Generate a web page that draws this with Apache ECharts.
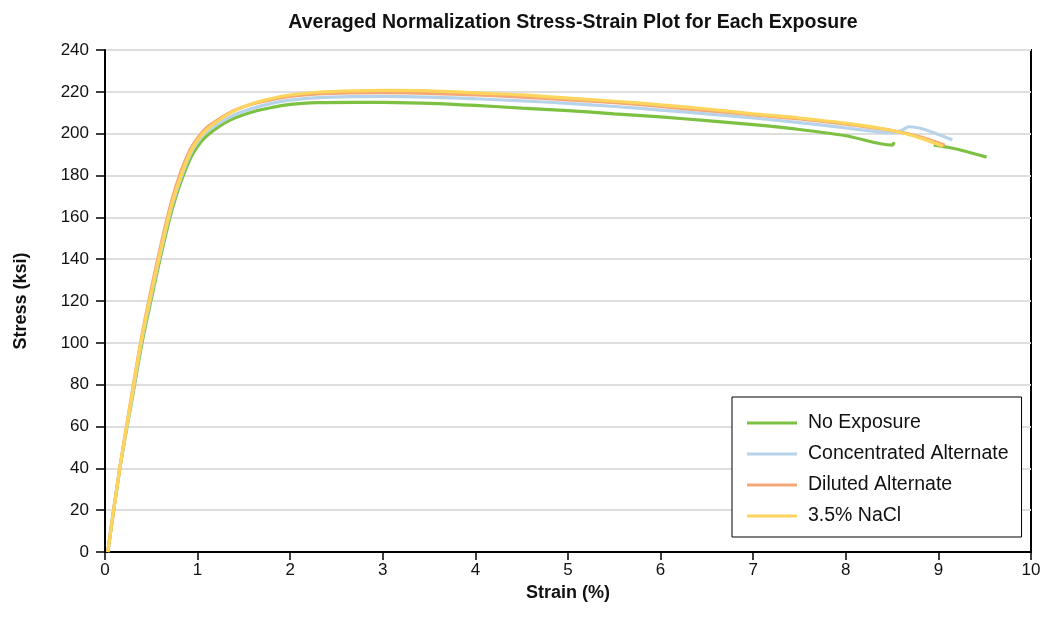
<!DOCTYPE html>
<html>
<head>
<meta charset="utf-8">
<title>Stress-Strain</title>
<script src="https://cdn.jsdelivr.net/npm/echarts@6/dist/echarts.min.js"></script>
<style>
    html, body { margin: 0; padding: 0; background: #fff; }
    #chart { width: 1049px; height: 638px; }
</style>
</head>
<body>
<div id="chart"></div>
<script>
// strain (%) points shared by the main body of every curve
var strainPts = [0.03, 0.16, 0.28, 0.4, 0.52, 0.62, 0.72, 0.82, 0.92, 1.0, 1.1, 1.25, 1.4, 1.6, 1.8, 2.0, 2.3, 2.7, 3.0, 3.5, 4.0, 4.5, 5.0, 5.5, 6.0, 6.5, 7.0, 7.5, 8.0, 8.5];

// stress (ksi) for each exposure
var noExposure   = [0, 40, 70, 100, 125, 145, 163, 177, 188, 194, 199, 204, 207.5, 210.5, 212.5, 214, 214.8, 215, 215, 214.5, 213.5, 212.2, 211, 209.5, 208, 206.2, 204.3, 202, 199, 194.5];
var concAlt      = [0, 40, 71, 102, 127, 147, 165, 179, 190, 196, 201, 205.5, 209, 212.2, 214.5, 216, 217.2, 217.7, 217.8, 217.5, 216.7, 215.7, 214.5, 213, 211.3, 209.5, 207.5, 205.3, 202.8, 200.5];
var dilutedAlt   = [0, 40, 73, 104, 130, 150, 168, 182, 192.5, 198, 203, 207.5, 211.2, 214.3, 216.3, 217.8, 219, 219.5, 219.6, 219.3, 218.5, 217.5, 216.2, 214.8, 213, 211, 209, 207, 204.5, 201.5];
var nacl         = [0, 40, 72, 103, 128, 148, 166, 180, 191, 197, 202, 207, 211, 214.5, 216.8, 218.5, 219.8, 220.5, 220.7, 220.5, 219.5, 218.5, 217, 215.5, 213.8, 211.8, 209.5, 207.5, 205, 201.5];

// end pieces past 8.5 %
var noExpTailX   = [8.52, null, 8.95, 9.1, 9.3, 9.52];
var noExpTailY   = [196, null, 194.5, 193.5, 191.5, 188.8];
var concTailX    = [8.6, 8.68, 8.85, 9.15];
var concTailY    = [201.5, 203.3, 202, 197];
var dilTailX     = [8.8, 9.07];
var dilTailY     = [198.5, 194.5];
var naclTailX    = [8.8, 9.05];
var naclTailY    = [198, 194];

var seriesNames  = ['No Exposure', 'Concentrated Alternate', 'Diluted Alternate', '3.5% NaCl'];
var seriesColors = ['#7dc142', '#b7d3ea', '#f5a877', '#fdd45c'];

var FONT = "'Liberation Sans', Arial, sans-serif";

function pairs(xs, ys, tx, ty) {
    var out = [];
    for (var i = 0; i < xs.length; i++) out.push([xs[i], ys[i]]);
    for (var j = 0; j < tx.length; j++) {
        out.push(tx[j] === null ? ['-', '-'] : [tx[j], ty[j]]);
    }
    return out;
}

var seriesData = [
    pairs(strainPts, noExposure, noExpTailX, noExpTailY),
    pairs(strainPts, concAlt, concTailX, concTailY),
    pairs(strainPts, dilutedAlt, dilTailX, dilTailY),
    pairs(strainPts, nacl, naclTailX, naclTailY)
];

var myChart = echarts.init(document.getElementById('chart'), null, { renderer: 'canvas' });
var option = {
    backgroundColor: '#fff',
    animation: false,
    title: {
        text: 'Averaged Normalization Stress-Strain Plot for Each Exposure',
        left: 568,
        textAlign: 'center',
        top: 8,
        textStyle: { fontFamily: FONT, fontSize: 19.5, fontWeight: 'bold', color: '#111' }
    },
    grid: {
        left: 105, right: 18, top: 50, bottom: 86,
        show: true, borderColor: '#000', borderWidth: 2, backgroundColor: 'transparent'
    },
    legend: {
        orient: 'vertical',
        left: 732,
        top: 397,
        data: seriesNames,
        icon: 'rect',
        itemWidth: 50,
        itemHeight: 3,
        itemGap: 9,
        padding: [15, 13, 10, 15],
        borderColor: '#000',
        borderWidth: 1,
        backgroundColor: '#fff',
        textStyle: { fontFamily: FONT, fontSize: 19.5, color: '#111', padding: [0, 0, 0, 6], lineHeight: 22 }
    },
    xAxis: {
        type: 'value',
        min: 0, max: 10, interval: 1,
        name: 'Strain (%)',
        nameLocation: 'middle',
        nameGap: 32,
        nameTextStyle: { fontFamily: FONT, fontSize: 18, fontWeight: 'bold', color: '#111' },
        axisLine: { onZero: false, lineStyle: { color: '#000', width: 2 } },
        axisTick: { show: true, length: 8, lineStyle: { color: '#000', width: 1.5 } },
        axisLabel: { fontFamily: FONT, fontSize: 17, color: '#111', margin: 10 },
        splitLine: { show: false }
    },
    yAxis: {
        type: 'value',
        min: 0, max: 240, interval: 20,
        name: 'Stress (ksi)',
        nameLocation: 'middle',
        nameGap: 75,
        nameTextStyle: { fontFamily: FONT, fontSize: 18, fontWeight: 'bold', color: '#111' },
        axisLine: { show: true, lineStyle: { color: '#000', width: 2 } },
        axisTick: { show: true, length: 9, lineStyle: { color: '#000', width: 1.5 } },
        axisLabel: { fontFamily: FONT, fontSize: 17, color: '#111', margin: 16 },
        splitLine: { show: true, lineStyle: { color: '#dedede', width: 2 } }
    },
    series: seriesNames.map(function (name, i) {
        return {
            name: name,
            type: 'line',
            data: seriesData[i],
            showSymbol: false,
            smooth: 0.3,
            connectNulls: false,
            color: seriesColors[i],
            lineStyle: { color: seriesColors[i], width: 3.2 },
            z: 2 + i
        };
    })
};
myChart.setOption(option);
</script>
</body>
</html>
